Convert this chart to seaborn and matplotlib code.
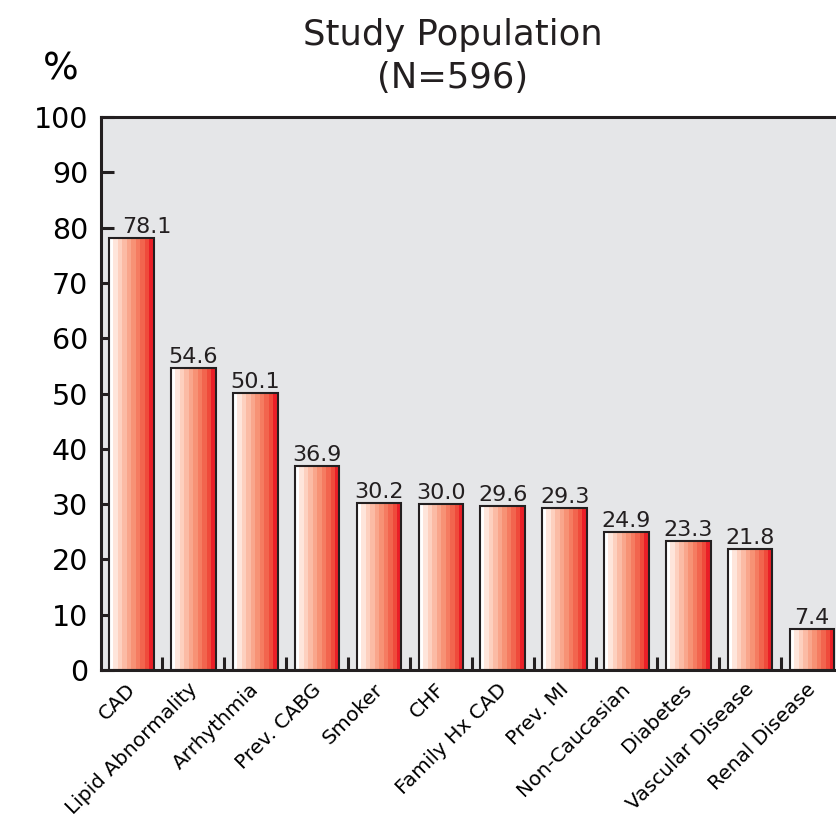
import numpy as np
import pandas as pd
import matplotlib
matplotlib.use("Agg")
import matplotlib.pyplot as plt
from matplotlib.colors import to_rgba
from matplotlib.transforms import ScaledTranslation
import seaborn as sns

categories = ["CAD", "Lipid Abnormality", "Arrhythmia", "Prev. CABG", "Smoker",
              "CHF", "Family Hx CAD", "Prev. MI", "Non-Caucasian", "Diabetes",
              "Vascular Disease", "Renal Disease"]
percent = [78.1, 54.6, 50.1, 36.9, 30.2, 30.0, 29.6, 29.3, 24.9, 23.3, 21.8, 7.4]
y_ticks = [0, 10, 20, 30, 40, 50, 60, 70, 80, 90, 100]

ink = "#231f20"
band_colors = ["#ffffff", "#fee5db", "#fdd0bf", "#fbbba5", "#f9a68c",
               "#f79275", "#f57c61", "#f2654e", "#ef4b3b", "#ea1f27"]

sns.set_theme(style="white")
plt.rcParams["font.family"] = ["DejaVu Sans"]

df = pd.DataFrame({"category": categories, "percent": percent})

fig = plt.figure(figsize=(8.37, 8.18), dpi=100)
ax = fig.add_axes([0.1202, 0.1809, 0.887, 0.676])
ax.set_facecolor("#e5e6e8")

sns.barplot(data=df, x="category", y="percent", width=0.72, color="#ea1f27",
            ax=ax, zorder=3)

# banded white-to-red fill inside each bar
bands = np.array([[to_rgba(c) for c in band_colors]])
for patch in ax.patches:
    x0, y0 = patch.get_x(), patch.get_y()
    w, h = patch.get_width(), patch.get_height()
    img = ax.imshow(bands, extent=(x0, x0 + w, y0, y0 + h), aspect="auto",
                    interpolation="nearest", zorder=2.5)
    img.set_clip_path(patch)
    patch.set_facecolor("none")
    patch.set_edgecolor(ink)
    patch.set_linewidth(1.5)

value_labels = ax.bar_label(ax.containers[0], fmt="%.1f", padding=1,
                            fontsize=16, color=ink)
# first label sits clear of the y-axis tick mark
dx, dy = value_labels[0].xyann
value_labels[0].xyann = (dx + 11, dy)

ax.set_xlim(-0.5, len(categories) - 0.5)
ax.set_ylim(0, 100)
ax.set_yticks(y_ticks)
ax.set_xlabel("")
ax.set_ylabel("")

for side in ["left", "top", "bottom"]:
    ax.spines[side].set_visible(True)
    ax.spines[side].set_color(ink)
    ax.spines[side].set_linewidth(2.2)
ax.spines["right"].set_visible(False)

ax.tick_params(axis="y", direction="in", length=9.5, width=2.2, color=ink,
               labelsize=20.5, labelcolor="black", pad=9, left=True)
ax.set_xticks(np.arange(len(categories)) + 0.5, minor=True)
ax.tick_params(axis="x", which="minor", direction="in", length=9.5, width=2.2,
               color=ink, bottom=True)
ax.tick_params(axis="x", which="major", length=0, pad=7, labelsize=14.5,
               labelcolor="black")
shift = ScaledTranslation(-6 / 100, 0, fig.dpi_scale_trans)
for lab in ax.get_xticklabels():
    lab.set_rotation(45)
    lab.set_ha("right")
    lab.set_va("top")
    lab.set_rotation_mode("anchor")
    lab.set_transform(lab.get_transform() + shift)

fig.text(0.541, 0.957, "Study Population", ha="center", va="center",
         fontsize=25.5, color=ink)
fig.text(0.541, 0.905, "(N=596)", ha="center", va="center",
         fontsize=25.5, color=ink)
fig.text(0.072, 0.915, "%", ha="center", va="center", fontsize=27, color="black")

fig.savefig("out.png", dpi=100)
